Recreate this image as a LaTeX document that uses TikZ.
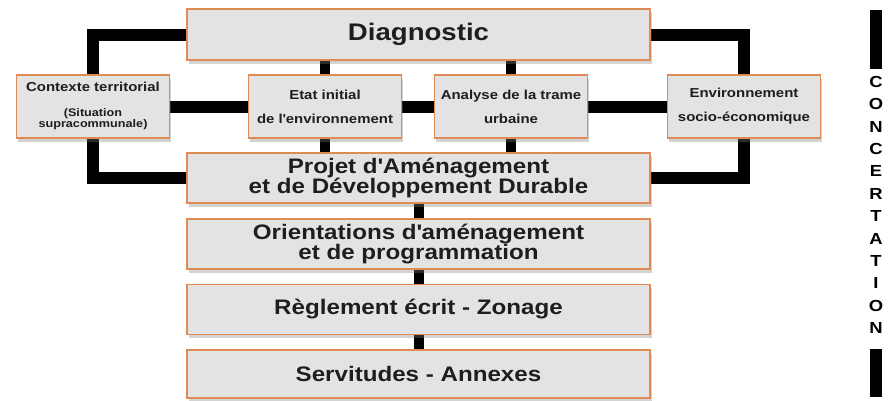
\documentclass[tikz,border=0pt]{standalone}
\usepackage{fontspec}
\setmainfont{Liberation Sans}[FakeStretch=1.15]
\usetikzlibrary{shadows,backgrounds}
\definecolor{boite}{HTML}{E3E3E3}
\definecolor{bord}{HTML}{E08A55}
\definecolor{texte}{HTML}{1E1E1E}
\newcommand{\apos}{\textquotesingle}
\tikzset{
  bloc/.style={draw=bord, line width=1.2pt, fill=boite, inner sep=0pt, text=texte, align=center,
    drop shadow={shadow xshift=1.5pt, shadow yshift=-3.5pt, opacity=0.35}},
  grand/.style={bloc, minimum width=463pt, minimum height=50pt, font=\bfseries\fontsize{21}{20}\selectfont},
  petit/.style={bloc, minimum width=153pt, minimum height=63pt, font=\bfseries\fontsize{13}{24}\selectfont},
  lien/.style={line width=12pt, black},
  tige/.style={line width=10pt, black},
  barre/.style={line width=11.5pt, black}
}
\begin{document}
\begin{tikzpicture}[x=1pt, y=-1pt]
\useasboundingbox (0,0) rectangle (888,400);

\node[grand, minimum height=51pt, font=\bfseries\fontsize{24}{24}\selectfont] (diag) at (418.5,34.5) {Diagnostic};
\node[petit] (ctx) at (93,106.5) {Contexte territorial\\[7pt]{\fontsize{11}{11}\selectfont\begin{tabular}{@{}c@{}}(Situation\\supracommunale)\end{tabular}}};
\node[petit] (etat) at (325,106.5) {Etat initial\\de l\apos environnement};
\node[petit] (ana) at (511,106.5) {Analyse de la trame\\urbaine};
\node[petit] (env) at (744,106.5) {Environnement\\socio-économique};
\node[grand] (pad) at (418.5,178) {Projet d\apos Aménagement\\et de Développement Durable};
\node[grand] (oap) at (418.5,244) {Orientations d\apos aménagement\\et de programmation};
\node[grand] (reg) at (418.5,309.5) {Règlement écrit - Zonage};
\node[grand, minimum height=48pt] (serv) at (418.5,374) {Servitudes - Annexes};

\node[inner sep=0pt, align=center, font=\bfseries\fontsize{16}{22.4}\selectfont] (conc) at (876,205) {C\\O\\N\\C\\E\\R\\T\\A\\T\\I\\O\\N};
\coordinate (chaut) at (876,10);
\coordinate (cbas) at (876,397);

\begin{scope}[on background layer]
\draw[lien] (diag.west) -| (ctx.north);
\draw[lien] (ctx.south) |- (pad.west);
\draw[lien] (diag.east) -| (env.north);
\draw[lien] (env.south) |- (pad.east);
\draw[lien] (ctx.east) -- (etat.west);
\draw[lien] (etat.east) -- (ana.west);
\draw[lien] (ana.east) -- (env.west);
\draw[tige] (etat.north) -- (etat.north |- diag.south);
\draw[tige] (etat.south) -- (etat.south |- pad.north);
\draw[tige] (ana.north) -- (ana.north |- diag.south);
\draw[tige] (ana.south) -- (ana.south |- pad.north);
\draw[tige] (pad.south) -- (oap.north);
\draw[tige] (oap.south) -- (reg.north);
\draw[tige] (reg.south) -- (serv.north);
\end{scope}

\draw[barre] (chaut) -- ([yshift=7pt]conc.north);
\draw[barre] ([yshift=-15pt]conc.south) -- (cbas);
\end{tikzpicture}
\end{document}
